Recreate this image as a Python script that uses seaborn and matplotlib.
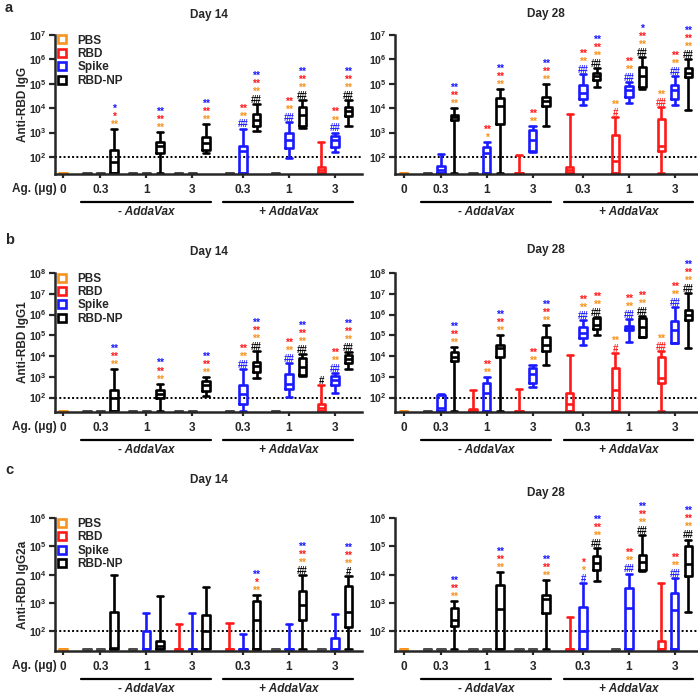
import matplotlib
matplotlib.use("Agg")
import matplotlib.pyplot as plt
import matplotlib.transforms as mtransforms
from matplotlib.lines import Line2D
import pandas as pd
import seaborn as sns

ND = 23  # not detected, drawn at the floor of the axis

antigens = ["PBS", "RBD", "Spike", "RBD-NP"]
dose_labels = ["0", "0.3", "1", "3", "0.3", "1", "3"]
adjuvant_labels = ["- AddaVax", "+ AddaVax"]
colors = {"PBS": "#f7931e", "RBD": "#ff1a1a", "Spike": "#1a1aff",
          "RBD-NP": "#000000", "ND": "#4d4d4d"}

# box order: PBS, then RBD / Spike / RBD-NP at 0.3, 1, 3 ug (- AddaVax), then the same (+ AddaVax)
# each box: min, q1, median, q3, max (whiskers min to max)
igg_d14 = [
    [ND] * 5,
    [ND] * 5, [ND] * 5, [ND, ND, 60, 200, 1450],
    [ND] * 5, [ND] * 5, [ND, 150, 280, 430, 1050],
    [ND] * 5, [ND] * 5, [140, 200, 370, 640, 2250],
    [ND] * 5, [ND, ND, 180, 280, 1450], [1200, 1850, 3200, 6000, 14500],
    [ND] * 5, [95, 230, 500, 980, 2800], [1500, 1850, 5200, 11000, 22000],
    [ND, ND, 30, 40, 420], [165, 265, 500, 750, 1000], [1900, 5000, 7500, 11000, 21000],
]
igg_d28 = [
    [ND] * 5,
    [ND] * 5, [ND, ND, 30, 42, 135], [ND, 3300, 4300, 5400, 10000],
    [ND] * 5, [ND, ND, 145, 255, 400], [ND, 2300, 12000, 26000, 60000],
    [ND, ND, ND, ND, 125], [155, 170, 500, 1230, 1900], [1800, 12000, 20000, 30000, 98000],
    [ND, ND, 28, 40, 5900], [13000, 23000, 41000, 90000, 250000], [72000, 145000, 210000, 290000, 430000],
    [ND, ND, 70, 810, 4300], [16000, 28000, 56000, 81000, 120000], [60000, 72000, 200000, 500000, 1260000],
    [ND, 170, 275, 3500, 11000], [13000, 23000, 56000, 89000, 210000], [8500, 195000, 290000, 430000, 1000000],
]
igg1_d14 = [
    [ND] * 5,
    [ND] * 5, [ND] * 5, [ND, ND, 90, 240, 2250],
    [ND] * 5, [ND] * 5, [ND, 100, 145, 240, 470],
    [ND] * 5, [ND] * 5, [115, 210, 390, 630, 1000],
    [ND] * 5, [ND, 51, 155, 390, 2250], [830, 1700, 3200, 5300, 18000],
    [ND] * 5, [107, 245, 470, 1350, 4700], [1100, 1200, 3000, 8500, 12000],
    [ND, ND, 30, 48, 390], [170, 390, 690, 1070, 1550], [2250, 4700, 7600, 11000, 16000],
]
igg1_d28 = [
    [ND] * 5,
    [ND] * 5, [ND, ND, 30, 135, 150], [ND, 5500, 9500, 15000, 27000],
    [ND, ND, ND, 28, 220], [ND, ND, 160, 490, 1000], [ND, 9500, 24000, 35000, 100000],
    [ND, ND, ND, ND, 250], [310, 490, 1400, 2600, 3800], [3800, 17000, 35000, 81000, 320000],
    [ND, ND, 50, 160, 11500], [35000, 72000, 126000, 245000, 520000], [105000, 200000, 320000, 680000, 740000],
    [ND, ND, 230, 2600, 14000], [50000, 180000, 230000, 290000, 600000], [81000, 87000, 260000, 670000, 870000],
    [ND, 490, 860, 9000, 18000], [42000, 42000, 180000, 470000, 2300000], [24000, 560000, 980000, 1700000, 10700000],
]
igg2a_d14 = [
    [ND] * 5,
    [ND] * 5, [ND] * 5, [ND, ND, 25, 500, 9500],
    [ND] * 5, [ND, ND, ND, 100, 455], [ND, ND, 30, 44, 1800],
    [ND, ND, ND, ND, 180], [ND, ND, ND, ND, 455], [ND, ND, 100, 375, 3700],
    [ND, ND, ND, ND, 190], [ND, ND, ND, ND, 83], [ND, ND, 250, 1200, 1900],
    [ND] * 5, [ND, ND, ND, ND, 180], [ND, 250, 860, 2760, 9500],
    [ND] * 5, [ND, ND, ND, 57, 410], [ND, 140, 500, 4000, 9000],
]
igg2a_d28 = [
    [ND] * 5,
    [ND] * 5, [ND] * 5, [ND, 148, 250, 690, 1200],
    [ND] * 5, [ND] * 5, [ND, ND, 640, 4400, 12300],
    [ND] * 5, [ND] * 5, [ND, 445, 1340, 1900, 6300],
    [ND, ND, ND, ND, 320], [ND, ND, 100, 730, 5000], [5800, 15000, 26000, 46000, 85000],
    [ND] * 5, [ND, ND, 690, 3300, 11000], [14000, 15000, 28000, 49000, 250000],
    [ND, ND, ND, 46, 5000], [ND, ND, 585, 2200, 7600], [480, 8700, 23000, 100000, 175000],
]

# significance marks: (box index, lines from top to bottom as (text, colour key))
S2, R2, P2 = ("**", "Spike"), ("**", "RBD"), ("**", "PBS")
SRP = [S2, R2, P2]
SRPN = [S2, R2, P2, ("##", "RBD-NP")]
RPS = [R2, P2, ("##", "Spike")]
marks_igg_d14 = [(3, [("*", "Spike"), ("*", "RBD"), P2]), (6, SRP), (9, SRP), (11, RPS), (12, SRPN),
                 (14, RPS), (15, SRPN), (17, RPS), (18, SRPN)]
marks_igg_d28 = [(3, SRP), (5, [R2, ("*", "PBS")]), (6, SRP), (8, [R2, P2]), (9, SRP), (11, RPS),
                 (12, SRPN), (13, [P2, ("#", "RBD")]), (14, RPS),
                 (15, [("*", "Spike"), R2, P2, ("##", "RBD-NP")]), (16, [P2, ("##", "RBD")]),
                 (17, RPS), (18, SRPN)]
marks_igg1_d14 = [(3, SRP), (6, SRP), (9, SRP), (11, RPS), (12, SRPN), (14, RPS), (15, SRPN),
                  (16, [("#", "RBD-NP")]), (17, RPS), (18, SRPN)]
marks_igg1_d28 = [(3, SRP), (5, [R2, P2]), (6, SRP), (8, [R2, P2]), (9, SRP), (11, RPS),
                  (12, [R2, P2, ("##", "RBD-NP")]), (13, [P2, ("#", "RBD")]), (14, RPS),
                  (15, [R2, P2, ("##", "RBD-NP")]), (16, [P2, ("##", "RBD")]), (17, RPS), (18, SRPN)]
marks_igg2a_d14 = [(12, [S2, ("*", "RBD"), P2]), (15, SRPN), (18, [S2, R2, P2, ("#", "RBD-NP")])]
marks_igg2a_d28 = [(3, SRP), (6, SRP), (9, SRP), (11, [("*", "RBD"), ("*", "PBS"), ("#", "Spike")]),
                   (12, SRPN), (14, RPS), (15, SRPN), (17, RPS), (18, SRPN)]

# layout of the x axis (slot units)
group_centers = [2.75, 6.15, 9.55, 13.3, 16.7, 20.1]
slot_antigen = ["PBS"] + ["RBD", "Spike", "RBD-NP"] * 6
slot_x = [0.0] + [c + d for c in group_centers for d in (-1, 0, 1)]

sns.set_style("ticks")
plt.rcParams["font.family"] = ["Liberation Sans", "DejaVu Sans"]
plt.rcParams["font.weight"] = "bold"
plt.rcParams["mathtext.fontset"] = "custom"
plt.rcParams["mathtext.rm"] = "Liberation Sans:bold"
plt.rcParams["mathtext.bf"] = "Liberation Sans:bold"

FS = 8.5
fig = plt.figure(figsize=(6.98, 6.98), dpi=100)


def box_frame(boxes):
    rows = []
    for i, stats in enumerate(boxes):
        name = slot_antigen[i]
        key = name if (name == "PBS" or max(stats) > ND) else "ND"
        for v in stats:
            rows.append({"x": slot_x[i], "titre": v, "group": key})
    return pd.DataFrame(rows)


def draw_panel(rect, boxes, marks, ymax_exp, title, title_gap, xlim, ylabel=None):
    ax = fig.add_axes(rect)
    ax.set_yscale("log")
    df = box_frame(boxes)
    sns.boxplot(data=df, x="x", y="titre", hue="group", palette=colors, orient="x",
                native_scale=True, dodge=False, fill=False, width=0.55, whis=(0, 100),
                linewidth=1.9, legend=False, capwidths=0.45, ax=ax)
    ax.axhline(100, color="black", lw=1.4, ls=(0, (1, 1.2)), zorder=0)

    for slot, lines in marks:
        top = max(boxes[slot])
        for k, (txt, who) in enumerate(reversed(lines)):
            ax.annotate(txt, xy=(slot_x[slot], top), xytext=(0, 3 + 5.8 * k),
                        textcoords="offset points", ha="center", va="center",
                        color=colors[who], fontsize=7 if "#" in txt else 7.5,
                        fontweight="bold")

    ax.set_ylim(20, 10 ** ymax_exp)
    ax.set_xlim(*xlim)
    exps = list(range(2, ymax_exp + 1))
    ax.set_yticks([10 ** e for e in exps])
    ax.set_yticklabels([r"$\mathbf{10^{%d}}$" % e for e in exps], fontsize=7.6)
    ax.yaxis.set_minor_locator(matplotlib.ticker.NullLocator())
    ax.set_xticks([slot_x[0]] + group_centers)
    ax.set_xticklabels(dose_labels, fontsize=FS, fontweight="bold")
    ax.tick_params(axis="y", width=1.6, length=4, pad=2)
    ax.tick_params(axis="x", width=1.6, length=3, pad=4)
    for side in ("left", "bottom"):
        ax.spines[side].set_linewidth(1.8)
    sns.despine(ax=ax)
    ax.set_xlabel("")
    if ylabel:
        ax.set_ylabel(ylabel, fontsize=FS, fontweight="bold")
        ax.yaxis.set_label_coords(-0.085, 0.5)
    else:
        ax.set_ylabel("")
    ax.text(0.5, 1, title, transform=mtransforms.offset_copy(ax.transAxes, fig=fig, y=title_gap, units="dots"),
            ha="center", va="center", fontsize=FS, fontweight="bold")

    # adjuvant brackets below the dose labels
    line_tr = mtransforms.offset_copy(ax.get_xaxis_transform(), fig=fig, y=-28, units="dots")
    text_tr = mtransforms.offset_copy(ax.get_xaxis_transform(), fig=fig, y=-38, units="dots")
    for j, lab in enumerate(adjuvant_labels):
        x0 = group_centers[3 * j] - 1.45
        x1 = group_centers[3 * j + 2] + 1.35
        ax.plot([x0, x1], [0, 0], transform=line_tr, color="black", lw=1.6, clip_on=False)
        ax.text(group_centers[3 * j + 1], 0, lab, transform=text_tr, ha="center", va="center",
                fontsize=FS, fontweight="bold", fontstyle="italic")
    return ax


rows = [(0.7507, 0.1991, "Anti-RBD IgG", 7, igg_d14, marks_igg_d14, igg_d28, marks_igg_d28, 20, 21),
        (0.4097, 0.1991, "Anti-RBD IgG1", 8, igg1_d14, marks_igg1_d14, igg1_d28, marks_igg1_d28, 21, 23),
        (0.0672, 0.1905, "Anti-RBD IgG2a", 6, igg2a_d14, marks_igg2a_d14, igg2a_d28, marks_igg2a_d28, 38, 25)]
letters = ["a", "b", "c"]
letter_y = [8, 240, 470]

for r, (bottom, height, ylab, top_exp, d14, m14, d28, m28, gap14, gap28) in enumerate(rows):
    left = draw_panel([55 / 698, bottom, 307 / 698, height], d14, m14, top_exp, "Day 14", gap14,
                      (-0.6, 22.1), ylabel=ylab)
    draw_panel([395 / 698, bottom, 302 / 698, height], d28, m28, top_exp, "Day 28", gap28,
               (-0.65, 21.75))
    # legend with hollow squares
    handles = [Line2D([], [], marker="s", ls="none", markersize=5.5, markerfacecolor="white",
                      markeredgecolor=colors[n], markeredgewidth=1.9) for n in antigens]
    left.legend(handles, antigens, loc="upper left", bbox_to_anchor=(0.0, 1.02), frameon=False,
                prop={"size": FS, "weight": "bold"}, handlelength=0.8, handletextpad=0.9,
                labelspacing=0.12, borderaxespad=0, borderpad=0.2)
    tick_tr = mtransforms.offset_copy(left.get_xaxis_transform(), fig=fig, y=-15, units="dots")
    left.text(-0.5, 0, "Ag. (\u03bcg)", transform=tick_tr, ha="right", va="center",
              fontsize=FS, fontweight="bold")
    fig.text(5 / 698, 1 - letter_y[r] / 698, letters[r], fontsize=10.5, fontweight="bold",
             va="center", ha="left")

fig.savefig("out.png", dpi=100)
